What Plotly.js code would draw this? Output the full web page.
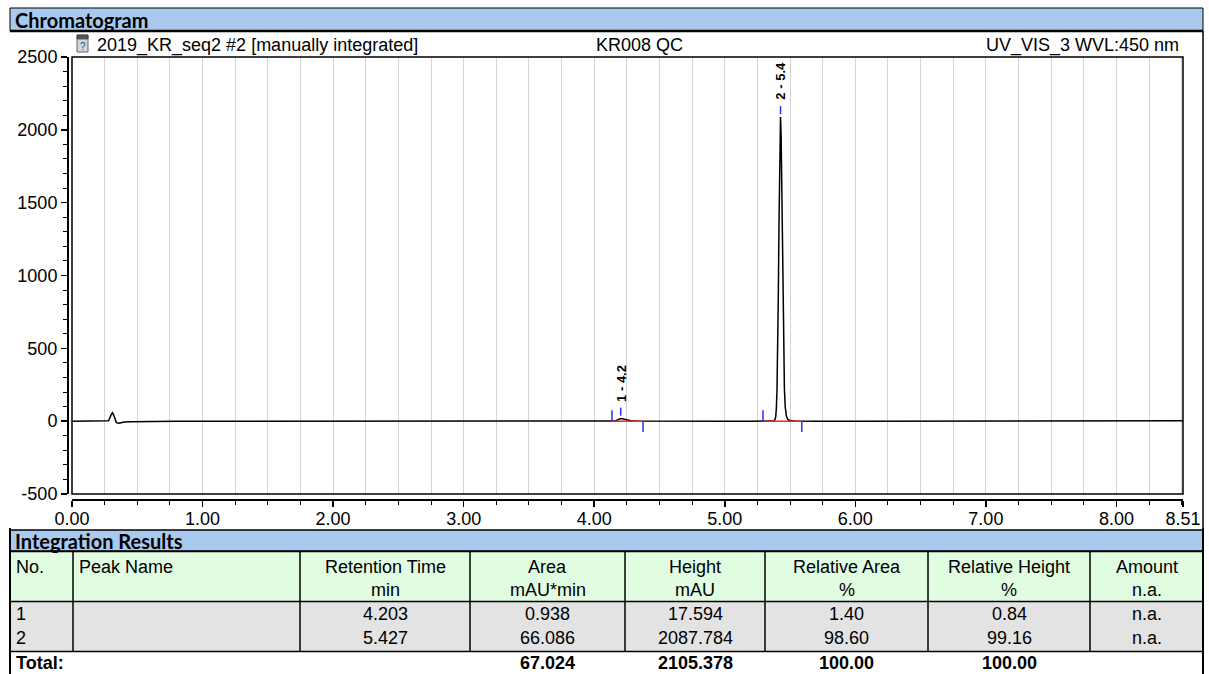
<!DOCTYPE html>
<html><head><meta charset="utf-8">
<script src="https://cdn.plot.ly/plotly-3.0.1.min.js"></script>
<style>html,body{margin:0;padding:0;background:#fff;}#chart{width:1209px;height:674px;}</style>
</head><body><div id="chart"></div>
<script>
// ---- chromatogram signal ----
const time = [0.00,0.05,0.10,0.15,0.20,0.25,0.28,0.30,0.31,0.32,0.34,0.36,0.38,0.40,0.45,0.50,0.60,0.80,1.00,1.50,2.00,2.50,3.00,3.50,3.80,4.00,4.10,4.136,4.15,4.17,4.185,4.195,4.203,4.215,4.23,4.25,4.28,4.32,4.374,4.41,4.45,4.50,4.80,5.00,5.20,5.293,5.36,5.38,5.39,5.395,5.40,5.405,5.41,5.415,5.42,5.427,5.432,5.437,5.442,5.447,5.452,5.457,5.463,5.472,5.482,5.50,5.53,5.59,5.70,6.00,6.50,7.00,7.50,8.00,8.30,8.51];
const signal = [0,0,0,0.5,0,0,3,45,58,40,-10,-14,-9,-5,-4,-3,-2,-1,-1,-1,0,0,0,0,0,0,0,0.5,1,5,11,15.5,17.6,16,12,7,3,1,0.5,2,0,0,0,0,0,0,0,1,28,84,210,456,840,1326,1790,2088,1950,1580,1130,720,420,220,100,35,12,5,2,1,0,0,0,0,0,0.5,2,3];

// ---- peaks ----
const peakNo = [1, 2];
const peakRT = [4.203, 5.427];
const peakHeight = [17.594, 2087.784];
const peakStart = [4.136, 5.293];
const peakEnd = [4.374, 5.590];

// ---- axis ticks ----
const xTickVals = [0,1,2,3,4,5,6,7,8,8.51];
const xTickText = ['0.00','1.00','2.00','3.00','4.00','5.00','6.00','7.00','8.00','8.51'];
const yTickVals = [-500,0,500,1000,1500,2000,2500];
const yTickText = ['-500','0','500','1000','1500','2000','2500'];

// ---- header texts ----
const sectionTitle = 'Chromatogram';
const injName = '2019_KR_seq2 #2 [manually integrated]';
const sampleName = 'KR008 QC';
const channelName = 'UV_VIS_3 WVL:450 nm';

// ---- integration table ----
const tableTitle = 'Integration Results';
const headLine1 = ['No.','Peak Name','Retention Time','Area','Height','Relative Area','Relative Height','Amount'];
const headLine2 = ['','','min','mAU*min','mAU','%','%','n.a.'];
const colNo = ['1','2'];
const colName = ['',''];
const colRT = ['4.203','5.427'];
const colArea = ['0.938','66.086'];
const colHeight = ['17.594','2087.784'];
const colRelArea = ['1.40','98.60'];
const colRelHeight = ['0.84','99.16'];
const colAmount = ['n.a.','n.a.'];
const totalRow = ['Total:','','','67.024','2105.378','100.00','100.00',''];

// ---- layout geometry (pixels) ----
const W = 1209, H = 674;
const M = {l:67, r:26, t:57, b:175};
const PW = W - M.l - M.r, PH = H - M.t - M.b;
const px = x => (x - M.l) / PW;
const py = y => (H - M.b - y) / PH;
const FONT = 'Liberation Sans, Arial, sans-serif';
const BOLDFONT = 'Lato, Carlito, sans-serif';
const BLUE = '#a9caee', GREEN = '#e1fde1', GREY = '#e3e3e3';
const colEdges = [10,73,300,470,625,765,928,1090,1203];

const shapes = [];
const ann = [];
function rect(x0,y0,x1,y1,fill,lc,lw){shapes.push({type:'rect',xref:'paper',yref:'paper',x0:px(x0),x1:px(x1),y0:py(y1),y1:py(y0),fillcolor:fill,line:{color:lc||'rgba(0,0,0,0)',width:lw||0},layer:'below'});}
function line(x0,y0,x1,y1,lc,lw){shapes.push({type:'line',xref:'paper',yref:'paper',x0:px(x0),x1:px(x1),y0:py(y0),y1:py(y1),line:{color:lc,width:lw},layer:'above'});}
function text(t,x,y,anchor,font){ann.push({text:t,xref:'paper',yref:'paper',x:px(x),y:py(y),xanchor:anchor,yanchor:'middle',showarrow:false,font:font});}
const f18 = {family:FONT,size:18,color:'#000'};
const f18b = {family:FONT,size:18,color:'#000',weight:'bold'};
const fTitle = {family:BOLDFONT,size:20,color:'#000',weight:'bold'};

// plot frame
shapes.push({type:'rect',xref:'x domain',yref:'y domain',x0:0,x1:1,y0:0,y1:1,line:{color:'#000',width:1.5},layer:'above'});

// chromatogram header
rect(10,8,1203,31,BLUE,'#000',1);
line(10,31,1203,31,'#000',2.5);
text(sectionTitle,13,19.5,'left',fTitle);
line(1203,31,1203,530,'#000',1.5);
// icon
rect(77,35,88,52,'#cdd8e4','#444',0.8);
rect(77,35,88,39,'#555','#444',0.8);
text('?',82.5,46,'center',{family:FONT,size:10,color:'#1f4e9c'});
text(injName,95,45,'left',f18);
text(sampleName,639,45,'center',f18);
text(channelName,1181,45,'right',f18);

// table
rect(10,530,1203,551,BLUE,'#000',1.5);
text(tableTitle,13,540.5,'left',fTitle);
rect(10,552,1203,601,GREEN);
rect(10,602,1203,651,GREY);
line(10,551.5,1203,551.5,'#000',1.5);
line(10,601.5,1203,601.5,'#000',1.5);
line(10,651.5,1203,651.5,'#000',1.5);
line(10,528,10,674,'#000',2);
line(1203,528,1203,674,'#000',2);
for (let i=1;i<colEdges.length-1;i++) line(colEdges[i],551.5,colEdges[i],651.5,'#000',1.5);

const dataCols = [colNo,colName,colRT,colArea,colHeight,colRelArea,colRelHeight,colAmount];
for (let c=0;c<headLine1.length;c++){
  const left = c<2;
  const x = left ? colEdges[c]+4 : (colEdges[c]+colEdges[c+1])/2;
  const anc = left ? 'left' : 'center';
  text(headLine1[c],x,567,anc,f18);
  if (headLine2[c]) text(headLine2[c],x,590,anc,f18);
  dataCols[c].forEach((v,r)=>{ if(v) text(v,x,614+r*24,anc,f18); });
  if (totalRow[c]) text(totalRow[c],x,663,anc,f18b);
}

// peak labels
peakNo.forEach((n,i)=>{
  ann.push({text:n+' - '+peakRT[i].toFixed(1),xref:'x',yref:'y',x:peakRT[i],y:peakHeight[i]+75,xanchor:'center',yanchor:'bottom',yshift:4,textangle:-90,showarrow:false,font:{family:FONT,size:13,color:'#000',weight:'bold'}});
});

// traces
const baseX=[],baseY=[],markX=[],markY=[];
peakStart.forEach((s,i)=>{
  baseX.push(s,peakEnd[i],null); baseY.push(0,0,null);
  markX.push(s,s,null,peakEnd[i],peakEnd[i],null,peakRT[i],peakRT[i],null);
  markY.push(0,75,null,0,-75,null,peakHeight[i]+20,peakHeight[i]+75,null);
});
const traces = [
  {x:time,y:signal,type:'scatter',mode:'lines',line:{color:'#000',width:1.5},hoverinfo:'skip'},
  {x:baseX,y:baseY,type:'scatter',mode:'lines',line:{color:'#ff2020',width:1.5},hoverinfo:'skip'},
  {x:markX,y:markY,type:'scatter',mode:'lines',line:{color:'#2a2aff',width:1.5},hoverinfo:'skip'}
];

const layout = {
  width:W,height:H,margin:M,paper_bgcolor:'#fff',plot_bgcolor:'#fff',showlegend:false,
  xaxis:{range:[0,8.51],domain:[px(72),1],anchor:'free',position:0,tickmode:'array',tickvals:xTickVals,ticktext:xTickText,
    ticks:'outside',ticklen:6,tickwidth:1.5,tickcolor:'#000',showline:true,linecolor:'#000',linewidth:1.5,ticklabelstandoff:-3,
    showgrid:true,gridcolor:'#d4d4d4',gridwidth:1,zeroline:false,tickfont:f18,fixedrange:true,
    minor:{tickmode:'linear',tick0:0,dtick:0.25,ticks:'outside',ticklen:4,tickwidth:1,tickcolor:'#000',showgrid:true,gridcolor:'#d4d4d4',gridwidth:1}},
  yaxis:{range:[-500,2500],domain:[(499-494)/PH,1],anchor:'free',position:0,tickmode:'array',tickvals:yTickVals,ticktext:yTickText,
    ticks:'outside',ticklen:6,tickwidth:1.5,tickcolor:'#000',showline:true,linecolor:'#000',linewidth:1.5,
    showgrid:false,zeroline:false,tickfont:f18,fixedrange:true,
    minor:{tickmode:'linear',tick0:0,dtick:100,ticks:'outside',ticklen:4,tickwidth:1,tickcolor:'#000',showgrid:false}},
  shapes:shapes,annotations:ann
};
Plotly.newPlot('chart',traces,layout,{displayModeBar:false,staticPlot:true});
</script></body></html>
